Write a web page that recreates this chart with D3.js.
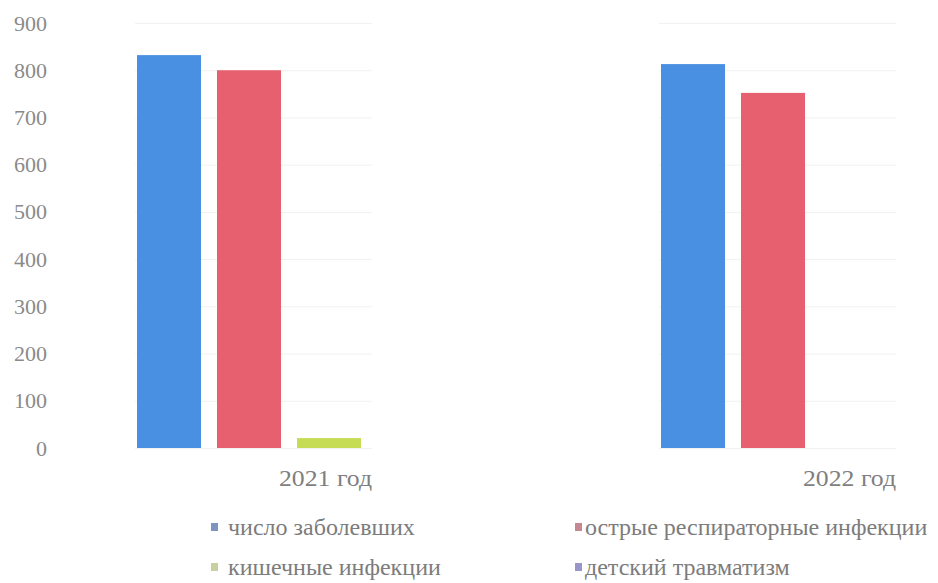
<!DOCTYPE html>
<html>
<head>
<meta charset="utf-8">
<script src="https://cdn.jsdelivr.net/npm/d3@7"></script>
<style>
  html, body { margin: 0; padding: 0; background: #fff; }
  svg { display: block; }
  svg text { font-family: "Times New Roman", "Liberation Serif", "DejaVu Serif", serif !important; }
</style>
</head>
<body>
<svg id="chart" width="938" height="583"></svg>
<script>
const categories = ["2021 год", "2022 год"];
const seriesNames = ["число заболевших", "острые респираторные инфекции", "кишечные инфекции", "детский травматизм"];
const zabolevshih = [832, 813];
const ori = [800, 752];
const kishechnye = [21, 0];
const travmatizm = [0, 0];
const yTicks = [0, 100, 200, 300, 400, 500, 600, 700, 800, 900];

const barColors = ["#4a90e2", "#e7606f", "#c6dc55", "#8e86d0"];
const legendColors = ["#7d95c0", "#c58791", "#c9d0a0", "#9a95c8"];

const seriesValues = [zabolevshih, ori, kishechnye, travmatizm];
const data = categories.map((c, i) => ({
  cat: c,
  vals: seriesNames.map((s, j) => ({ key: s, value: seriesValues[j][i], idx: j }))
}));

const FONT = "'Times New Roman', 'Liberation Serif', 'DejaVu Serif', serif";
const svg = d3.select("#chart");

const y = d3.scaleLinear().domain([0, 900]).range([448, 23]);
const x0 = d3.scaleBand().domain(categories).range([135, 896]).paddingInner(0.5477).paddingOuter(0);
const x1 = d3.scaleBand().domain(seriesNames).range([-6, 314]).paddingInner(0.2).paddingOuter(0.1);

// gridlines per group band
const groups = svg.append("g").selectAll("g.grp").data(data).join("g")
  .attr("class", "grp")
  .attr("transform", d => `translate(${x0(d.cat)},0)`);

groups.selectAll("line.grid").data(yTicks).join("line")
  .attr("class", "grid")
  .attr("x1", 0).attr("x2", x0.bandwidth())
  .attr("y1", d => y(d) + 0.5).attr("y2", d => y(d) + 0.5)
  .attr("stroke", "#f1f1f1").attr("stroke-width", 1);

groups.selectAll("rect").data(d => d.vals).join("rect")
  .attr("x", d => x1(d.key))
  .attr("width", x1.bandwidth())
  .attr("y", d => y(d.value))
  .attr("height", d => y(0) - y(d.value))
  .attr("fill", d => barColors[d.idx]);

// y axis
const yAxis = d3.axisLeft(y).tickValues(yTicks).tickSize(0).tickPadding(0).tickFormat(d3.format("d"));
const gy = svg.append("g").attr("transform", "translate(47,0)").call(yAxis);
gy.attr("font-family", FONT).attr("font-size", 22);
gy.select(".domain").remove();
gy.selectAll("text")
  .attr("fill", "#8a8a8a")
  .style("font-family", FONT)
  .style("font-size", "22px");

// category labels
svg.append("g").selectAll("text").data(categories).join("text")
  .attr("x", d => x0(d) + x0.bandwidth())
  .attr("y", 478)
  .attr("dy", "0.35em")
  .attr("text-anchor", "end")
  .attr("fill", "#7f7f7f")
  .style("font-family", FONT)
  .style("font-size", "23px")
  .attr("textLength", 93)
  .attr("lengthAdjust", "spacingAndGlyphs")
  .text(d => d);

// legend
const legendPos = [
  { x: 211, y: 527, tx: 17 },
  { x: 575, y: 527, tx: 10 },
  { x: 211, y: 567, tx: 17 },
  { x: 575, y: 567, tx: 10 }
];
const lg = svg.append("g").selectAll("g").data(seriesNames).join("g")
  .attr("transform", (d, i) => `translate(${legendPos[i].x},${legendPos[i].y})`);
lg.append("rect")
  .attr("x", 0).attr("y", -4).attr("width", 7).attr("height", 8)
  .attr("fill", (d, i) => legendColors[i]);
lg.append("text")
  .attr("x", (d, i) => legendPos[i].tx).attr("y", 0).attr("dy", "0.32em")
  .attr("fill", "#7c7c7c")
  .style("font-family", FONT)
  .style("font-size", "24px")
  .text(d => d);
</script>
</body>
</html>
